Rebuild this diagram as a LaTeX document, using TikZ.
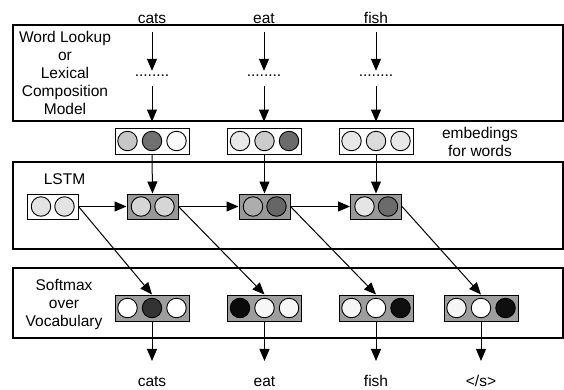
\documentclass[tikz,border=0pt]{standalone}
\usepackage{fontspec}
\setmainfont{Liberation Sans}
\usetikzlibrary{arrows.meta}
\begin{document}
\begin{tikzpicture}[x=1pt,y=-1pt,
  font=\fontsize{15.5}{18}\selectfont,
  panel/.style={draw, line width=1.1pt, inner sep=0pt},
  word/.style={anchor=base, text height=11.5pt, text depth=0pt},
  ecell/.style={draw, line width=1pt, fill=white, minimum width=74pt, minimum height=26pt, inner sep=0pt},
  lcell/.style={draw, line width=1pt, fill=black!40, minimum width=51pt, minimum height=25pt, inner sep=0pt},
  scell/.style={draw, line width=1pt, fill=black!38, minimum width=74pt, minimum height=26pt, inner sep=0pt},
  bub/.style={draw, circle, line width=0.9pt, minimum size=19.5pt, inner sep=0pt},
  arr/.style={-{Triangle[width=10pt,length=12pt]}, line width=1pt},
  ln/.style={line width=1pt},
]
\useasboundingbox (0,0) rectangle (564,389);

% panels
\node[panel, minimum width=550pt, minimum height=96pt] (P1) at (288,73) {};
\node[panel, minimum width=550pt, minimum height=87pt] (P2) at (288,205.5) {};
\node[panel, minimum width=550pt, minimum height=70pt] (P3) at (288,303) {};

% panel labels
\node[align=center] (lbl1) at (65,73.4) {Word Lookup\\or\\Lexical\\Composition\\Model};
\node[word] (lbl2) at (64.5,184) {LSTM};
\node[align=center] (lbl3) at (64,304) {Softmax\\over\\Vocabulary};
\node[align=center] (lbl4) at (480,142.3) {embedings\\for words};

% input words
\node[word] (w1) at (152,23) {cats};
\node[word] (w2) at (264,23) {eat};
\node[word] (w3) at (376,23) {fish};

% dots
\node[anchor=base] (d1) at (152,76) {........};
\node[anchor=base] (d2) at (264,76) {........};
\node[anchor=base] (d3) at (376,76) {........};

\foreach \i in {1,2,3}{
  \draw[arr] ([yshift=-5pt]w\i.south) -- (d\i.north);
  \draw[arr] ([yshift=-6pt]d\i.south) -- (d\i |- P1.south);
}

% embeddings
\node[ecell] (e1) at (152,141) {};
\node[bub, fill=black!22] (e1a) at (127.5,141) {};
\node[bub, fill=black!56] (e1b) at (152,141) {};
\node[bub, fill=black!2]  (e1c) at (176.5,141) {};

\node[ecell] (e2) at (264.5,141) {};
\node[bub, fill=black!9]  (e2a) at (240,141) {};
\node[bub, fill=black!20] (e2b) at (264.5,141) {};
\node[bub, fill=black!58] (e2c) at (289,141) {};

\node[ecell] (e3) at (376,141) {};
\node[bub, fill=black!9]  (e3a) at (351.5,141) {};
\node[bub, fill=black!14] (e3b) at (376,141) {};
\node[bub, fill=black!9]  (e3c) at (400.5,141) {};

% LSTM cells
\node[lcell, fill=white] (l0) at (52.5,206.5) {};
\node[bub, fill=black!11] (l0a) at (41,206.5) {};
\node[bub, fill=black!11] (l0b) at (64.5,206.5) {};

\node[lcell] (l1) at (152.5,206.5) {};
\node[bub, fill=black!16] (l1a) at (141,206.5) {};
\node[bub, fill=black!16] (l1b) at (164.5,206.5) {};

\node[lcell] (l2) at (264.5,206.5) {};
\node[bub, fill=black!32] (l2a) at (253,206.5) {};
\node[bub, fill=black!60] (l2b) at (276.5,206.5) {};

\node[lcell] (l3) at (376,206.5) {};
\node[bub, fill=black!10] (l3a) at (364.5,206.5) {};
\node[bub, fill=black!58] (l3b) at (388,206.5) {};

% softmax cells
\node[scell] (s1) at (152,308) {};
\node[bub, fill=white]    (s1a) at (127.5,308) {};
\node[bub, fill=black!80] (s1b) at (152,308) {};
\node[bub, fill=white]    (s1c) at (176.5,308) {};

\node[scell] (s2) at (264.5,308) {};
\node[bub, fill=black!96] (s2a) at (240,308) {};
\node[bub, fill=black!3]  (s2b) at (264.5,308) {};
\node[bub, fill=black!3]  (s2c) at (289,308) {};

\node[scell] (s3) at (376,308) {};
\node[bub, fill=black!4]  (s3a) at (351.5,308) {};
\node[bub, fill=white]    (s3b) at (376,308) {};
\node[bub, fill=black!94] (s3c) at (400.5,308) {};

\node[scell] (s4) at (481,308) {};
\node[bub, fill=black!4]  (s4a) at (456.5,308) {};
\node[bub, fill=white]    (s4b) at (481,308) {};
\node[bub, fill=black!94] (s4c) at (505.5,308) {};

% output words
\node[word] (c1) at (152,386) {cats};
\node[word] (c2) at (264.5,386) {eat};
\node[word] (c3) at (376,386) {fish};
\node[word] (c4) at (481,386) {</s>};

% connectors
\draw[arr] (e1.south) -- (l1.north);
\draw[arr] (e2.south) -- (l2.north);
\draw[arr] (e3.south) -- (l3.north);

\draw[arr] (l0.east) -- (l1.west);
\draw[arr] (l1.east) -- (l2.west);
\draw[arr] (l2.east) -- (l3.west);

\draw[arr] (l0.east) -- (s1.north);
\draw[arr] (l1.east) -- (s2.north);
\draw[arr] (l2.east) -- (s3.north);
\draw[arr] (l3.east) -- (s4.north);

\draw[arr] (s1.south) -- ([yshift=10pt]c1.north);
\draw[arr] (s2.south) -- ([yshift=10pt]c2.north);
\draw[arr] (s3.south) -- ([yshift=10pt]c3.north);
\draw[arr] (s4.south) -- ([yshift=10pt]c4.north);
\end{tikzpicture}
\end{document}
